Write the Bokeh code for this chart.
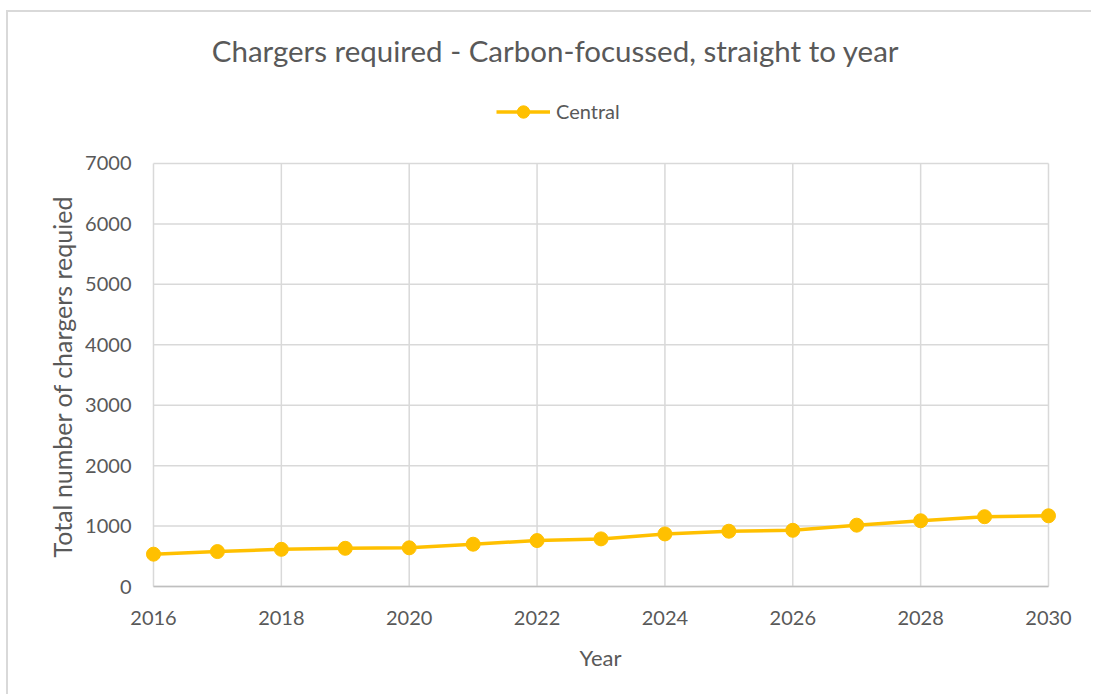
import math

from bokeh.plotting import figure
from bokeh.models import Range1d, LinearAxis, FixedTicker, Label, Legend, LegendItem
from bokeh.embed import file_html
from bokeh.resources import INLINE

# Series data
years = [2016, 2017, 2018, 2019, 2020, 2021, 2022, 2023,
         2024, 2025, 2026, 2027, 2028, 2029, 2030]
chargers = [535, 578, 615, 632, 640, 700, 760, 788,
            870, 915, 930, 1015, 1088, 1155, 1170]

# Axis ticks and texts
x_ticks = [2016, 2018, 2020, 2022, 2024, 2026, 2028, 2030]
y_ticks = [0, 1000, 2000, 3000, 4000, 5000, 6000, 7000]
series_name = "Central"
title_text = "Chargers required - Carbon-focussed, straight to year"
x_title = "Year"
y_title = "Total number of chargers requied"

TEXT = "#595959"
FONT = "Lato"
GOLD = "#FFC000"
GRID = "#D9D9D9"

x_lo, x_hi = x_ticks[0], x_ticks[-1]
y_lo, y_hi = y_ticks[0], y_ticks[-1]

# The frame covers the whole canvas, so the title, the legend and all axis
# texts sit inside it; gridlines and axis rules only span the plotted
# 2016..2030 x 0..7000 area.
p = figure(width=1085, height=684,
           x_range=Range1d(2013.732, 2030.704), y_range=Range1d(-1820.3, 9498.8),
           output_backend="svg", toolbar_location=None,
           x_axis_location=None, y_axis_location=None,
           min_border_left=0, min_border_right=0,
           min_border_top=0, min_border_bottom=0,
           margin=(10, 0, 0, 6))
p.styles = {"border-left": "2px solid #D9D9D9", "border-top": "2px solid #D9D9D9"}
p.outline_line_color = None
p.background_fill_color = "white"
p.border_fill_color = "white"
p.grid.visible = False

# Gridlines
p.segment(x0=x_ticks, y0=[y_lo] * len(x_ticks), x1=x_ticks, y1=[y_hi] * len(x_ticks),
          line_color=GRID, line_width=1.5, level="underlay")
p.segment(x0=[x_lo] * len(y_ticks), y0=y_ticks, x1=[x_hi] * len(y_ticks), y1=y_ticks,
          line_color=GRID, line_width=1.5, level="underlay")

def style_axis(ax):
    ax.major_tick_out = 0
    ax.major_tick_in = 0
    ax.minor_tick_line_color = None
    ax.major_label_text_font = FONT
    ax.major_label_text_font_size = "20px"
    ax.major_label_text_color = TEXT

xax = LinearAxis(ticker=FixedTicker(ticks=x_ticks), bounds=(x_lo, x_hi),
                 fixed_location=y_lo)
style_axis(xax)
xax.axis_line_color = "#BFBFBF"
xax.axis_line_width = 1.5
xax.major_label_standoff = 24
p.add_layout(xax, "below")

yax = LinearAxis(ticker=FixedTicker(ticks=y_ticks), bounds=(y_lo, y_hi),
                 fixed_location=x_lo)
style_axis(yax)
yax.axis_line_color = None
yax.major_label_standoff = 22
p.add_layout(yax, "left")

r_line = p.line(years, chargers, line_color=GOLD, line_width=3.5)
r_pts = p.scatter(years, chargers, size=14, fill_color=GOLD, line_color=GOLD)

def text_label(text, x, y, size, angle=0.0):
    return Label(x=x, y=y, x_units="screen", y_units="screen", text=text,
                 angle=angle, text_align="center", text_baseline="middle",
                 text_font=FONT, text_font_size=size, text_color=TEXT)

# Axis titles
p.add_layout(text_label(y_title, 53, 320, "25px", angle=math.pi / 2))
p.add_layout(text_label(x_title, 592, 39, "22px"))

# Chart title
p.add_layout(text_label(title_text, 547, 646, "29.5px"))

legend = Legend(items=[LegendItem(label=series_name, renderers=[r_line, r_pts])],
                location=(488, 569.5), orientation="horizontal",
                border_line_color=None, background_fill_alpha=0,
                padding=0, margin=0, glyph_width=54, glyph_height=31,
                label_standoff=6, label_text_font=FONT,
                label_text_font_size="20px", label_text_color=TEXT)
p.add_layout(legend)

open("out.html", "w").write(file_html(p, INLINE))
